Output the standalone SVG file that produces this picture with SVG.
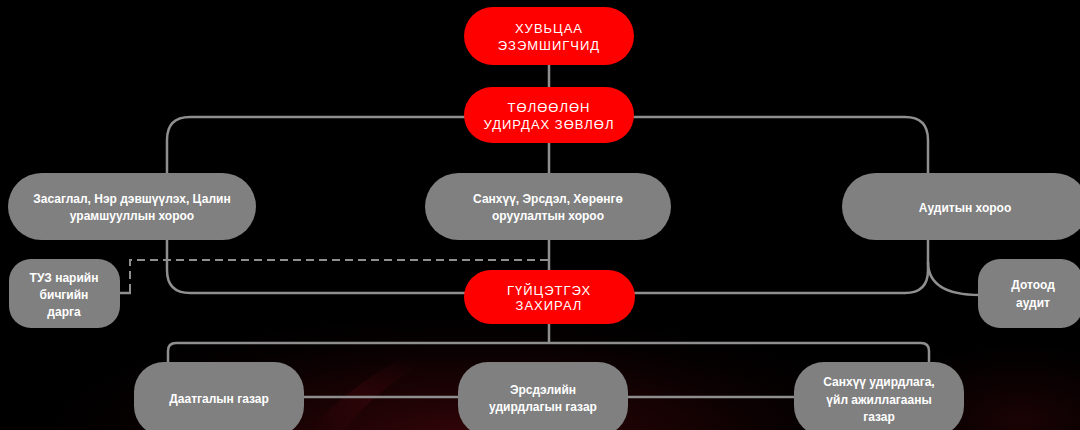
<svg xmlns="http://www.w3.org/2000/svg" width="1080" height="430" viewBox="0 0 1080 430">
<defs>
<radialGradient id="glow" cx="0.5" cy="0.5" r="0.5">
<stop offset="0" stop-color="#3f060a" stop-opacity="0.85"/>
<stop offset="0.5" stop-color="#240305" stop-opacity="0.55"/>
<stop offset="1" stop-color="#000000" stop-opacity="0"/>
</radialGradient>
<linearGradient id="streak" x1="0" y1="1" x2="1" y2="0">
<stop offset="0" stop-color="#5a0a10" stop-opacity="0"/>
<stop offset="0.5" stop-color="#5a0a10" stop-opacity="0.5"/>
<stop offset="1" stop-color="#5a0a10" stop-opacity="0"/>
</linearGradient>
<style>
.ln{fill:none;stroke:#8f8f8f;stroke-width:2.5}
.dash{fill:none;stroke:#8f8f8f;stroke-width:2;stroke-dasharray:8 5}
.red{fill:#ff0000}
.gray{fill:#808080}
.tr{fill:#ffffff;font-family:"Liberation Sans","DejaVu Sans",sans-serif;font-size:13px;letter-spacing:1px;text-anchor:middle}
.tg{fill:#ffffff;font-family:"Liberation Sans","DejaVu Sans",sans-serif;font-size:12px;font-weight:bold;text-anchor:middle}
</style>
</defs>
<rect x="0" y="0" width="1080" height="430" fill="#000000"/>
<ellipse cx="470" cy="440" rx="480" ry="140" fill="url(#glow)"/>
<ellipse cx="1020" cy="420" rx="180" ry="90" fill="url(#glow)" opacity="0.5"/>
<path d="M310 430 Q350 385 400 360 L420 365 Q370 395 345 430 Z" fill="url(#streak)" opacity="0.5"/>

<g id="connectors">
<line class="ln" x1="549" y1="64" x2="549" y2="90"/>
<line class="ln" x1="549" y1="140" x2="549" y2="343"/>
<path class="ln" d="M466 117 H190 Q167 117 167 140 V270 Q167 293 190 293 H466"/>
<path class="ln" d="M632 117 H905 Q928 117 928 140 V270 Q928 293 905 293 H632"/>
<path class="ln" d="M928 262 Q928 295 980 295"/>
<path class="dash" d="M548 260 H130 V293"/>
<line class="ln" x1="119" y1="293" x2="131" y2="293"/>
<path class="ln" d="M168 364 V351 Q168 343 176 343 H921 Q929 343 929 351 V364"/>
<line class="ln" x1="302" y1="397" x2="460" y2="397"/>
<line class="ln" x1="626" y1="397" x2="796" y2="397"/>
</g>

<g id="shareholders">
<rect class="red" x="464" y="7" width="170" height="58" rx="29"/>
<text class="tr" x="549" y="33">ХУВЬЦАА</text>
<text class="tr" x="549" y="50">ЭЗЭМШИГЧИД</text>
</g>
<g id="board">
<rect class="red" x="464" y="87" width="170" height="56" rx="28"/>
<text class="tr" x="549" y="112">ТӨЛӨӨЛӨН</text>
<text class="tr" x="549" y="129">УДИРДАХ ЗӨВЛӨЛ</text>
</g>
<g id="governance-committee">
<rect class="gray" x="8" y="173" width="248" height="67" rx="33.5"/>
<text class="tg" x="132" y="203">Засаглал, Нэр дэвшүүлэх, Цалин</text>
<text class="tg" x="132" y="220">урамшууллын хороо</text>
</g>
<g id="finance-committee">
<rect class="gray" x="425" y="173" width="246" height="67" rx="33.5"/>
<text class="tg" x="548" y="203">Санхүү, Эрсдэл, Хөрөнгө</text>
<text class="tg" x="548" y="220">оруулалтын хороо</text>
</g>
<g id="audit-committee">
<rect class="gray" x="842" y="173" width="246" height="67" rx="33.5"/>
<text class="tg" x="965" y="212">Аудитын хороо</text>
</g>
<g id="board-secretary">
<rect class="gray" x="9" y="259" width="111" height="69" rx="22"/>
<text class="tg" x="64" y="282">ТУЗ нарийн</text>
<text class="tg" x="64" y="299">бичгийн</text>
<text class="tg" x="64" y="316">дарга</text>
</g>
<g id="ceo">
<rect class="red" x="464" y="270" width="171" height="54" rx="27"/>
<text class="tr" x="549" y="295">ГҮЙЦЭТГЭХ</text>
<text class="tr" x="549" y="310">ЗАХИРАЛ</text>
</g>
<g id="internal-audit">
<rect class="gray" x="978" y="259" width="105" height="69" rx="22"/>
<text class="tg" x="1033" y="289">Дотоод</text>
<text class="tg" x="1033" y="307">аудит</text>
</g>
<g id="insurance-dept">
<rect class="gray" x="134" y="362" width="170" height="74" rx="30"/>
<text class="tg" x="219" y="403">Даатгалын газар</text>
</g>
<g id="risk-dept">
<rect class="gray" x="458" y="362" width="170" height="74" rx="30"/>
<text class="tg" x="543" y="394">Эрсдэлийн</text>
<text class="tg" x="543" y="411">удирдлагын газар</text>
</g>
<g id="finance-dept">
<rect class="gray" x="794" y="362" width="170" height="74" rx="30"/>
<text class="tg" x="879" y="386">Санхүү удирдлага,</text>
<text class="tg" x="879" y="404">үйл ажиллагааны</text>
<text class="tg" x="879" y="421">газар</text>
</g>
</svg>
